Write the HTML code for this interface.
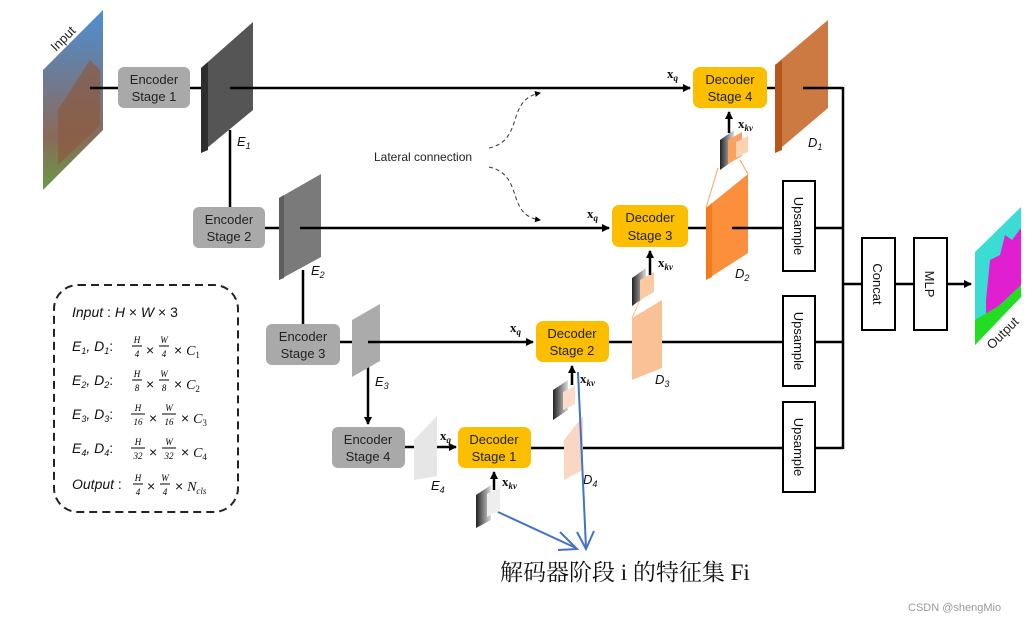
<!DOCTYPE html>
<html><head><meta charset="utf-8"><style>
html,body{margin:0;padding:0;background:#fff;}
svg{display:block;font-family:"Liberation Sans",sans-serif;}
.b{font-size:13px;fill:#222;text-anchor:middle;}
.lg{font-size:14px;font-style:italic;fill:#111;}
.fr{font-family:"Liberation Serif",serif;font-size:9px;font-style:italic;text-anchor:middle;}
.lab{font-size:13px;font-style:italic;fill:#111;}
.x{font-family:"Liberation Serif",serif;font-weight:bold;font-size:13px;fill:#111;}
</style></head><body>
<svg width="1033" height="622" viewBox="0 0 1033 622" xmlns="http://www.w3.org/2000/svg">
<defs>
<marker id="a" markerWidth="8" markerHeight="8" refX="7" refY="4" orient="auto" markerUnits="userSpaceOnUse"><path d="M0,0 L8,4 L0,8 z" fill="#000"/></marker>
<marker id="s" markerWidth="6" markerHeight="6" refX="5" refY="3" orient="auto" markerUnits="userSpaceOnUse"><path d="M0,0 L6,3 L0,6 z" fill="#000"/></marker>
<linearGradient id="g1" x1="0" x2="1"><stop offset="0" stop-color="#222"/><stop offset="1" stop-color="#ddd"/></linearGradient>
<linearGradient id="sky" x1="0" y1="0" x2="0" y2="1"><stop offset="0" stop-color="#4d8fd6"/><stop offset="0.7" stop-color="#8a6a5a"/><stop offset="1" stop-color="#6a9a4a"/></linearGradient>
</defs>

<!-- input -->
<polygon points="43,70 103,10 103,130 43,190" fill="url(#sky)"/>
<polygon points="58,110 90,60 100,70 100,125 58,165" fill="#8b5a40" opacity="0.7"/>
<text x="0" y="0" transform="translate(56,52) rotate(-45)" font-size="13" fill="#222">Input</text>

<!-- lines -->
<g stroke="#000" stroke-width="2.5" fill="none">
<line x1="90" y1="88" x2="120" y2="88"/>
<line x1="190" y1="88" x2="205" y2="88"/>
<line x1="230" y1="88" x2="690" y2="88" marker-end="url(#a)"/>
<line x1="230" y1="130" x2="230" y2="207"/>
<line x1="265" y1="228" x2="282" y2="228"/>
<line x1="300" y1="228" x2="609" y2="228" marker-end="url(#a)"/>
<line x1="303" y1="270" x2="303" y2="324"/>
<line x1="340" y1="342" x2="355" y2="342"/>
<line x1="368" y1="342" x2="533" y2="342" marker-end="url(#a)"/>
<line x1="368" y1="365" x2="368" y2="424" marker-end="url(#a)"/>
<line x1="405" y1="447" x2="416" y2="447"/>
<line x1="430" y1="447" x2="456" y2="447" marker-end="url(#a)"/>
<line x1="531" y1="448" x2="783" y2="448"/>
<line x1="609" y1="342" x2="783" y2="342"/>
<line x1="688" y1="228" x2="783" y2="228"/>
<line x1="767" y1="88" x2="843" y2="88"/>
<line x1="815" y1="448" x2="843" y2="448"/>
<line x1="815" y1="342" x2="843" y2="342"/>
<line x1="815" y1="228" x2="843" y2="228"/>
<line x1="843" y1="87" x2="843" y2="449"/>
<line x1="843" y1="284" x2="862" y2="284"/>
<line x1="895" y1="284" x2="914" y2="284"/>
<line x1="947" y1="284" x2="971" y2="284" marker-end="url(#a)"/>
</g>

<!-- encoder boxes -->
<g fill="#a9a9a9">
<rect x="118" y="67" width="72" height="41" rx="6"/>
<rect x="193" y="207" width="72" height="41" rx="6"/>
<rect x="266" y="324" width="74" height="41" rx="6"/>
<rect x="332" y="427" width="73" height="41" rx="6"/>
</g>
<text class="b" x="154" y="84">Encoder</text><text class="b" x="154" y="101">Stage 1</text>
<text class="b" x="229" y="224">Encoder</text><text class="b" x="229" y="241">Stage 2</text>
<text class="b" x="303" y="341">Encoder</text><text class="b" x="303" y="358">Stage 3</text>
<text class="b" x="368" y="444">Encoder</text><text class="b" x="368" y="461">Stage 4</text>

<!-- encoder planes -->
<polygon points="201,68 253,22 253,110 201,153" fill="#555"/>
<polygon points="201,68 208,62 208,150 201,153" fill="#2e2e2e"/>
<line x1="230" y1="88" x2="253" y2="88" stroke="#000" stroke-width="2.5"/>
<polygon points="279,198 321,174 321,257 279,280" fill="#7a7a7a"/>
<polygon points="279,198 284,195 284,278 279,280" fill="#5e5e5e"/>
<line x1="300" y1="228" x2="321" y2="228" stroke="#000" stroke-width="2.5"/>
<polygon points="352,320 380,304 380,361 352,377" fill="#ababab"/>
<line x1="368" y1="342" x2="380" y2="342" stroke="#000" stroke-width="2.5"/>
<polygon points="414,440 437,416 437,476 414,480" fill="#e6e6e6"/>

<!-- decoder boxes -->
<g fill="#fcbf00">
<rect x="693" y="67" width="74" height="41" rx="7"/>
<rect x="612" y="205" width="76" height="42" rx="7"/>
<rect x="536" y="321" width="73" height="41" rx="7"/>
<rect x="458" y="427" width="73" height="41" rx="7"/>
</g>
<text class="b" x="730" y="84">Decoder</text><text class="b" x="730" y="101">Stage 4</text>
<text class="b" x="650" y="222">Decoder</text><text class="b" x="650" y="240">Stage 3</text>
<text class="b" x="572" y="338">Decoder</text><text class="b" x="572" y="355">Stage 2</text>
<text class="b" x="494" y="444">Decoder</text><text class="b" x="494" y="461">Stage 1</text>

<!-- decoder planes -->
<polygon points="775,65 828,20 828,108 775,153" fill="#cc7a42"/>
<polygon points="775,65 782,60 782,150 775,153" fill="#b5561a"/>
<line x1="803" y1="88" x2="828" y2="88" stroke="#000" stroke-width="2.5"/>
<polygon points="706,208 748,174 748,253 706,280" fill="#fb8f3c"/>
<polygon points="706,208 712,203 712,277 706,280" fill="#f07a1e"/>
<line x1="732" y1="228" x2="748" y2="228" stroke="#000" stroke-width="2.5"/>
<polygon points="632,318 662,300 662,368 632,380" fill="#fbc196"/>
<polygon points="564,440 583,416 583,470 564,480" fill="#f9d7c2"/>
<line x1="718" y1="168" x2="706" y2="208" stroke="#f7a060" stroke-width="1"/>
<line x1="740" y1="160" x2="748" y2="174" stroke="#f7a060" stroke-width="1"/>
<line x1="640" y1="300" x2="632" y2="318" stroke="#fbc196" stroke-width="1"/>

<!-- small feature stacks -->
<g>
<polygon points="720,140 734,130 734,160 720,170" fill="url(#g1)"/>
<polygon points="728,140 742,132 742,156 728,164" fill="#fca060"/>
<polygon points="736,142 748,136 748,152 736,158" fill="#fcd2b0"/>
<polygon points="632,278 646,268 646,296 632,306" fill="url(#g1)"/>
<polygon points="640,280 654,272 654,292 640,300" fill="#fcc9a0"/>
<polygon points="553,390 568,380 568,410 553,420" fill="url(#g1)"/>
<polygon points="563,392 575,386 575,404 563,410" fill="#fcdcc6"/>
<polygon points="476,495 491,485 491,520 476,528" fill="url(#g1)"/>
<polygon points="487,494 500,487 500,510 487,517" fill="#eee"/>
</g>
<g stroke="#000" stroke-width="2.5">
<line x1="729" y1="133" x2="729" y2="112" marker-end="url(#a)"/>
<line x1="650" y1="275" x2="650" y2="251" marker-end="url(#a)"/>
<line x1="572" y1="385" x2="572" y2="366" marker-end="url(#a)"/>
<line x1="494" y1="490" x2="494" y2="472" marker-end="url(#a)"/>
</g>
<text class="x" x="738" y="128">x<tspan font-size="9" dy="3" font-style="italic">kv</tspan></text>
<text class="x" x="658" y="267">x<tspan font-size="9" dy="3" font-style="italic">kv</tspan></text>
<text class="x" x="580" y="383">x<tspan font-size="9" dy="3" font-style="italic">kv</tspan></text>
<text class="x" x="502" y="486">x<tspan font-size="9" dy="3" font-style="italic">kv</tspan></text>
<text class="x" x="667" y="78">x<tspan font-size="9" dy="3" font-style="italic">q</tspan></text>
<text class="x" x="587" y="218">x<tspan font-size="9" dy="3" font-style="italic">q</tspan></text>
<text class="x" x="510" y="332">x<tspan font-size="9" dy="3" font-style="italic">q</tspan></text>
<text class="x" x="440" y="440">x<tspan font-size="9" dy="3" font-style="italic">q</tspan></text>

<!-- labels -->
<text class="lab" x="237" y="146">E<tspan font-size="9" dy="3">1</tspan></text>
<text class="lab" x="311" y="275">E<tspan font-size="9" dy="3">2</tspan></text>
<text class="lab" x="375" y="386">E<tspan font-size="9" dy="3">3</tspan></text>
<text class="lab" x="431" y="490">E<tspan font-size="9" dy="3">4</tspan></text>
<text class="lab" x="808" y="147">D<tspan font-size="9" dy="3">1</tspan></text>
<text class="lab" x="735" y="278">D<tspan font-size="9" dy="3">2</tspan></text>
<text class="lab" x="655" y="384">D<tspan font-size="9" dy="3">3</tspan></text>
<text class="lab" x="583" y="484">D<tspan font-size="9" dy="3">4</tspan></text>

<!-- lateral -->
<text x="374" y="161" font-size="12" fill="#222">Lateral connection</text>
<g stroke="#333" stroke-width="1" stroke-dasharray="4,3" fill="none">
<path d="M489,148 C525,140 505,100 540,93" marker-end="url(#s)"/>
<path d="M489,167 C525,175 505,215 540,220" marker-end="url(#s)"/>
</g>

<!-- right boxes -->
<g fill="#fff" stroke="#000" stroke-width="2">
<rect x="783" y="181" width="32" height="90"/>
<rect x="783" y="296" width="32" height="90"/>
<rect x="783" y="402" width="32" height="90"/>
<rect x="862" y="238" width="33" height="92"/>
<rect x="914" y="238" width="33" height="92"/>
</g>
<g font-size="13" fill="#111" text-anchor="middle">
<text transform="translate(794,226) rotate(90)">Upsample</text>
<text transform="translate(794,341) rotate(90)">Upsample</text>
<text transform="translate(794,447) rotate(90)">Upsample</text>
<text transform="translate(873,284) rotate(90)">Concat</text>
<text transform="translate(925,284) rotate(90)">MLP</text>
</g>

<!-- output -->
<polygon points="975,252 1021,207 1021,297 975,345" fill="#3bdcd4"/>
<polygon points="986,300 990,260 1000,255 1005,235 1012,240 1021,228 1021,285 986,318" fill="#e020d0"/>
<polygon points="975,320 1000,305 1021,285 1021,297 975,345" fill="#22dd22"/>
<text transform="translate(992,350) rotate(-45)" font-size="13" fill="#222">Output</text>

<!-- legend -->
<rect x="54" y="285" width="184" height="227" rx="24" fill="none" stroke="#222" stroke-width="2" stroke-dasharray="8,5"/>
<text class="lg" x="72" y="317">Input<tspan font-style="normal"> : </tspan>H<tspan font-style="normal"> × </tspan>W<tspan font-style="normal"> × 3</tspan></text>
<g class="lg">
<text x="72" y="351">E<tspan font-size="9" dy="3">1</tspan><tspan dy="-3">, D</tspan><tspan font-size="9" dy="3">1</tspan><tspan dy="-3" font-style="normal">:</tspan></text>
<text x="72" y="385">E<tspan font-size="9" dy="3">2</tspan><tspan dy="-3">, D</tspan><tspan font-size="9" dy="3">2</tspan><tspan dy="-3" font-style="normal">:</tspan></text>
<text x="72" y="419">E<tspan font-size="9" dy="3">3</tspan><tspan dy="-3">, D</tspan><tspan font-size="9" dy="3">3</tspan><tspan dy="-3" font-style="normal">:</tspan></text>
<text x="72" y="453">E<tspan font-size="9" dy="3">4</tspan><tspan dy="-3">, D</tspan><tspan font-size="9" dy="3">4</tspan><tspan dy="-3" font-style="normal">:</tspan></text>
<text x="72" y="489">Output<tspan font-style="normal"> :</tspan></text>
</g>
<g class="fr">
<text x="137" y="343">H</text><text x="137" y="357">4</text><line x1="132" y1="346" x2="142" y2="346" stroke="#000"/>
<text x="164" y="343">W</text><text x="164" y="357">4</text><line x1="159" y1="346" x2="169" y2="346" stroke="#000"/>
<text x="137" y="377">H</text><text x="137" y="391">8</text><line x1="132" y1="380" x2="142" y2="380" stroke="#000"/>
<text x="164" y="377">W</text><text x="164" y="391">8</text><line x1="159" y1="380" x2="169" y2="380" stroke="#000"/>
<text x="138" y="411">H</text><text x="138" y="425">16</text><line x1="131" y1="414" x2="145" y2="414" stroke="#000"/>
<text x="169" y="411">W</text><text x="169" y="425">16</text><line x1="162" y1="414" x2="176" y2="414" stroke="#000"/>
<text x="138" y="445">H</text><text x="138" y="459">32</text><line x1="131" y1="448" x2="145" y2="448" stroke="#000"/>
<text x="169" y="445">W</text><text x="169" y="459">32</text><line x1="162" y1="448" x2="176" y2="448" stroke="#000"/>
<text x="138" y="481">H</text><text x="138" y="495">4</text><line x1="133" y1="484" x2="143" y2="484" stroke="#000"/>
<text x="165" y="481">W</text><text x="165" y="495">4</text><line x1="160" y1="484" x2="170" y2="484" stroke="#000"/>
</g>
<g font-size="14" fill="#111">
<text x="146" y="355">×</text><text x="174" y="355">× <tspan font-family="Liberation Serif" font-style="italic">C</tspan><tspan font-family="Liberation Serif" font-size="9" dy="3">1</tspan></text>
<text x="146" y="389">×</text><text x="174" y="389">× <tspan font-family="Liberation Serif" font-style="italic">C</tspan><tspan font-family="Liberation Serif" font-size="9" dy="3">2</tspan></text>
<text x="149" y="423">×</text><text x="181" y="423">× <tspan font-family="Liberation Serif" font-style="italic">C</tspan><tspan font-family="Liberation Serif" font-size="9" dy="3">3</tspan></text>
<text x="149" y="457">×</text><text x="181" y="457">× <tspan font-family="Liberation Serif" font-style="italic">C</tspan><tspan font-family="Liberation Serif" font-size="9" dy="3">4</tspan></text>
<text x="147" y="491">×</text><text x="175" y="491">× <tspan font-family="Liberation Serif" font-style="italic">N</tspan><tspan font-family="Liberation Serif" font-style="italic" font-size="9" dy="3">cls</tspan></text>
</g>

<!-- blue annotations -->
<g stroke="#4472c4" stroke-width="2" fill="none">
<line x1="498" y1="512" x2="576" y2="548"/>
<path d="M560,532 L577,549 L558,550"/>
<line x1="578" y1="372" x2="586" y2="548"/>
<path d="M577,532 L586,549 L594,531"/>
</g>
<text x="500" y="580" font-family="'Liberation Serif','Noto Serif CJK SC',serif" font-size="23" fill="#111">解码器阶段 i 的特征集 Fi</text>
<text x="908" y="611" font-size="11" fill="#999">CSDN @shengMio</text>
</svg>
</body></html>
